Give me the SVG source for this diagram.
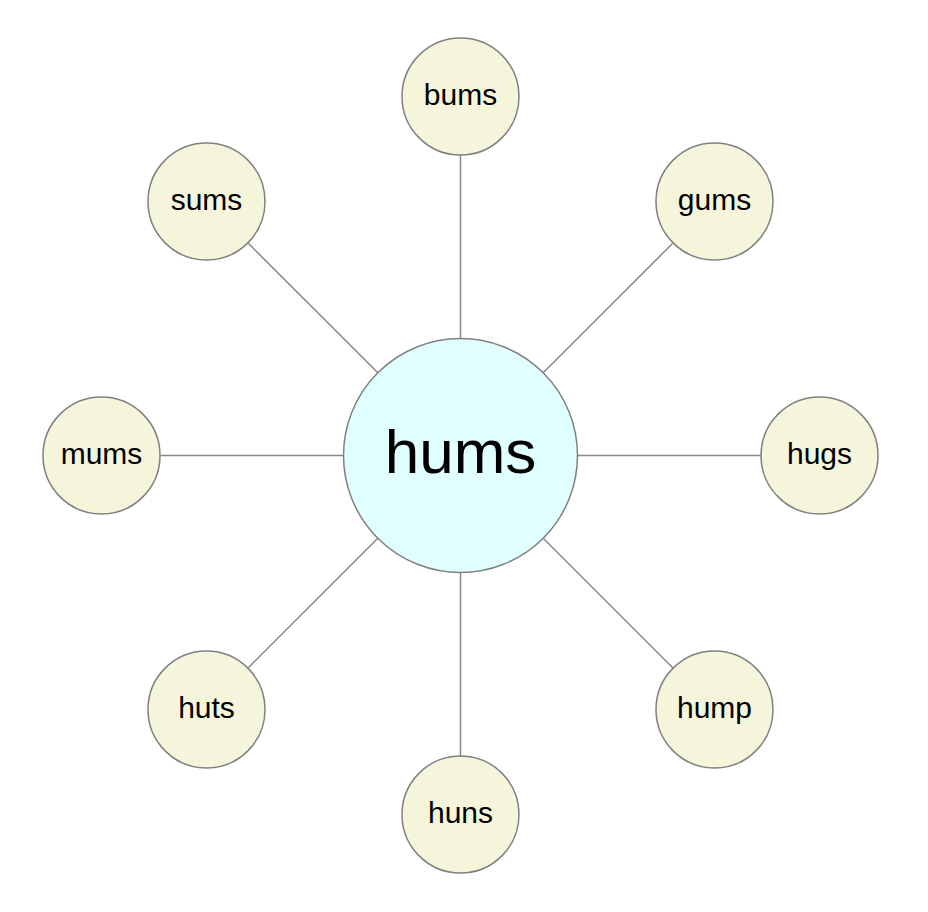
<svg xmlns="http://www.w3.org/2000/svg" width="928" height="912" viewBox="0 0 928 912">
<style>
.edge{stroke:#888888;stroke-width:1.5;fill:none}
.hub{fill:#e0ffff;stroke:#808080;stroke-width:1.5}
.leaf{fill:#f5f5dc;stroke:#808080;stroke-width:1.5}
text{font-family:"Liberation Sans",Arial,sans-serif;fill:#000;text-anchor:middle}
.big{font-size:62px}
.small{font-size:30px}
</style>
<rect width="928" height="912" fill="#ffffff"/>
<g id="connectors">
<line class="edge" x1="460.5" y1="338.5" x2="460.5" y2="155"/>
<line class="edge" x1="377.8" y1="372.8" x2="248.3" y2="243.3"/>
<line class="edge" x1="543.2" y1="372.8" x2="672.7" y2="243.3"/>
<line class="edge" x1="343.5" y1="455.5" x2="160.5" y2="455.5"/>
<line class="edge" x1="577.5" y1="455.5" x2="761.5" y2="455.5"/>
<line class="edge" x1="377.8" y1="538.2" x2="248.3" y2="667.7"/>
<line class="edge" x1="543.2" y1="538.2" x2="672.7" y2="667.7"/>
<line class="edge" x1="460.5" y1="572.5" x2="460.5" y2="756"/>
</g>
<g id="node-hums"><circle class="hub" cx="460.5" cy="455.5" r="117"/><text class="big" x="460.5" y="473">hums</text></g>
<g id="node-bums"><circle class="leaf" cx="460.5" cy="96.5" r="58.5"/><text class="small" x="460.5" y="105">bums</text></g>
<g id="node-sums"><circle class="leaf" cx="206.5" cy="201.5" r="58.5"/><text class="small" x="206.5" y="210">sums</text></g>
<g id="node-gums"><circle class="leaf" cx="714.5" cy="201.5" r="58.5"/><text class="small" x="714.5" y="210">gums</text></g>
<g id="node-mums"><circle class="leaf" cx="101.5" cy="455.5" r="58.5"/><text class="small" x="101.5" y="464">mums</text></g>
<g id="node-hugs"><circle class="leaf" cx="819.5" cy="455.5" r="58.5"/><text class="small" x="819.5" y="464">hugs</text></g>
<g id="node-huts"><circle class="leaf" cx="206.5" cy="709.5" r="58.5"/><text class="small" x="206.5" y="718">huts</text></g>
<g id="node-hump"><circle class="leaf" cx="714.5" cy="709.5" r="58.5"/><text class="small" x="714.5" y="718">hump</text></g>
<g id="node-huns"><circle class="leaf" cx="460.5" cy="814.5" r="58.5"/><text class="small" x="460.5" y="823">huns</text></g>
</svg>
